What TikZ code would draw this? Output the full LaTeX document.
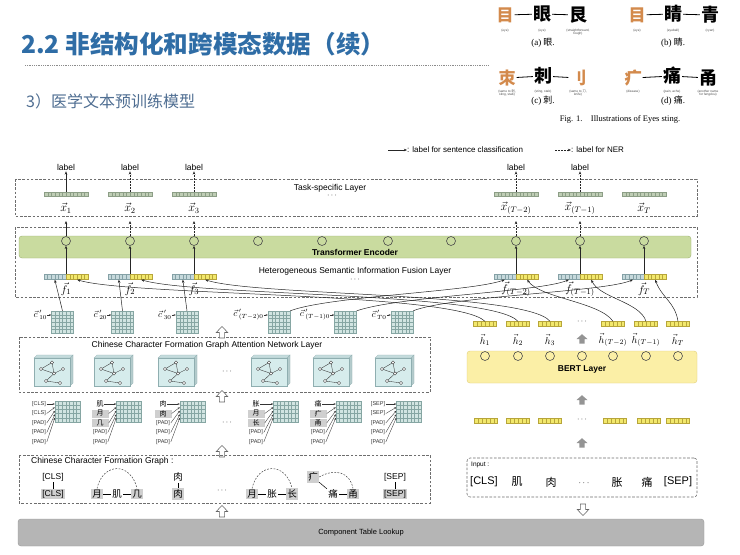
\documentclass[tikz,border=0pt]{standalone}
\usepackage{fontspec}
\setmainfont{Liberation Serif}
\setsansfont{Liberation Sans}
\newfontfamily\cjk{Noto Sans CJK SC}
\usetikzlibrary{arrows.meta,calc}

\definecolor{titleblue}{HTML}{2F6DA6}
\definecolor{subblue}{HTML}{4F6E92}
\definecolor{orng}{HTML}{D38A4C}
\definecolor{dgray}{HTML}{6E6E6E}
\definecolor{xfill}{HTML}{BFCDB5}
\definecolor{xline}{HTML}{8C9E86}
\definecolor{fgfill}{HTML}{C6D9DC}
\definecolor{fgline}{HTML}{85A1A6}
\definecolor{yfill}{HTML}{F2E86C}
\definecolor{yline}{HTML}{B7A53A}
\definecolor{gfill}{HTML}{D2E5E2}
\definecolor{gline}{HTML}{86A6A3}
\definecolor{tfill}{HTML}{C9DB9F}
\definecolor{tline}{HTML}{9DB270}
\definecolor{bfill}{HTML}{FBEFA6}
\definecolor{bline}{HTML}{E2CF78}
\definecolor{cfill}{HTML}{B5B5B5}
\definecolor{cline}{HTML}{9A9A9A}
\definecolor{hl}{HTML}{CFCFCF}
\definecolor{cubef}{HTML}{D6ECEC}
\definecolor{cubes}{HTML}{B4CBCC}
\definecolor{cubet}{HTML}{C5DCDD}
\definecolor{cubel}{HTML}{8FAEB0}

\newcommand\cellsH[2]{\pgfmathtruncatemacro\nnc{#1-1}%
 \foreach \k in {1,...,\nnc}{\draw[#2,line width=0.3pt] ($(path picture bounding box.south west)!\k/#1!(path picture bounding box.south east)$) -- ($(path picture bounding box.north west)!\k/#1!(path picture bounding box.north east)$);}}
\newcommand\cellsG[3]{\pgfmathtruncatemacro\nnc{#1-1}\pgfmathtruncatemacro\nnr{#2-1}%
 \foreach \k in {1,...,\nnc}{\draw[#3,line width=0.3pt] ($(path picture bounding box.south west)!\k/#1!(path picture bounding box.south east)$) -- ($(path picture bounding box.north west)!\k/#1!(path picture bounding box.north east)$);}%
 \foreach \k in {1,...,\nnr}{\draw[#3,line width=0.3pt] ($(path picture bounding box.south west)!\k/#2!(path picture bounding box.north west)$) -- ($(path picture bounding box.south east)!\k/#2!(path picture bounding box.north east)$);}}
\newcommand\tl[5]{\node[#4] (#1) at (#2,#3) {#5};}

\tikzset{
 arr/.style={-{Stealth[length=3.2pt,width=2.6pt]}, line width=0.5pt, draw=black!85},
 darr/.style={arr, dash pattern=on 1.8pt off 1.2pt},
 arrs/.style={-{Stealth[length=2.2pt,width=1.8pt]}, line width=0.35pt, draw=black!80},
 dbox/.style={draw=dgray, line width=0.55pt, dash pattern=on 2.6pt off 1.6pt},
 sf/.style={font=\sffamily\fontsize{#1}{#1}\selectfont, inner sep=1pt},
 sfb/.style={font=\sffamily\bfseries\fontsize{#1}{#1}\selectfont, inner sep=1pt},
 cj/.style={font=\cjk\fontsize{#1}{#1}\selectfont, inner sep=1pt},
 mathl/.style={font=\fontsize{#1}{#1}\selectfont, inner sep=0},
 xbar/.style={draw=xline, fill=xfill, line width=0.4pt, minimum width=44pt, minimum height=4.5pt, inner sep=0, path picture={\cellsH{12}{xline}}},
 fgbar/.style={draw=fgline, fill=fgfill, line width=0.4pt, minimum width=22pt, minimum height=5pt, inner sep=0, path picture={\cellsH{6}{fgline}}},
 fybar/.style={draw=yline, fill=yfill, line width=0.4pt, minimum width=22pt, minimum height=5pt, inner sep=0, path picture={\cellsH{6}{yline}}},
 hbar/.style={draw=yline, fill=yfill, line width=0.4pt, minimum width=23pt, minimum height=5pt, inner sep=0, path picture={\cellsH{6}{yline}}},
 cgrid/.style={draw=gline, fill=gfill, line width=0.4pt, minimum width=22pt, minimum height=22pt, inner sep=0, path picture={\cellsG{6}{6}{gline}}},
 egrid/.style={draw=gline, fill=gfill, line width=0.4pt, minimum width=25pt, minimum height=21pt, inner sep=0, path picture={\cellsG{7}{5}{gline}}},
 circ/.style={circle, draw=#1, line width=0.6pt, minimum size=9pt, inner sep=0},
 rad/.style={font=\cjk\bfseries\fontsize{17}{17}\selectfont, text=orng, inner sep=1pt},
 whole/.style={font=\cjk\bfseries\fontsize{18}{18}\selectfont, inner sep=1pt},
 tiny/.style={font=\sffamily\fontsize{3.2}{3.6}\selectfont, align=center, text=black!70, inner sep=0},
 capt/.style={font=\rmfamily\fontsize{9}{9}\selectfont, inner sep=0},
 tk/.style={font=\sffamily\fontsize{5.5}{6}\selectfont, inner sep=0.6pt, text=black!80},
 tc/.style={font=\cjk\fontsize{7}{7}\selectfont, inner sep=0.6pt},
 hlb/.style={fill=hl, minimum width=17pt, minimum height=8pt, inner sep=0},
 gt/.style={font=\sffamily\fontsize{8.5}{9}\selectfont, inner sep=1.2pt},
 gc/.style={font=\cjk\fontsize{9.5}{10}\selectfont, inner sep=1.2pt},
 darc/.style={draw=black!75, line width=0.5pt, dash pattern=on 1.8pt off 1.4pt},
 holup/.pic={\filldraw[fill=white, draw=black!60, line width=0.55pt] (-2.6,6) -- (-2.6,0.5) -- (-5.8,0.5) -- (0,-5.5) -- (5.8,0.5) -- (2.6,0.5) -- (2.6,6) -- cycle;},
 gup/.pic={\fill[black!42] (-2.6,4.5) -- (-2.6,0) -- (-5.5,0) -- (0,-4.8) -- (5.5,0) -- (2.6,0) -- (2.6,4.5) -- cycle;},
 gcube/.pic={
  \filldraw[fill=cubet, draw=cubel, line width=0.3pt] (-18,-14) -- (-15,-17) -- (21,-17) -- (18,-14) -- cycle;
  \filldraw[fill=cubes, draw=cubel, line width=0.3pt] (18,-14) -- (21,-17) -- (21,11) -- (18,14) -- cycle;
  \filldraw[fill=cubef, draw=cubel, line width=0.3pt] (-18,-14) rectangle (18,14);
  \draw[line width=0.4pt, black!75] (0,-9.5) -- (-11,-3) -- (2,1.5) -- cycle (2,1.5) -- (11,-3) (2,1.5) -- (-6,9) -- (8,11);
  \foreach \p in {(0,-9.5),(-11,-3),(2,1.5),(11,-3),(-6,9),(8,11)} \filldraw[fill=white, draw=black!75, line width=0.35pt] \p circle (1.6pt);
 }
}

\begin{document}
\begin{tikzpicture}[x=1pt,y=-1pt]
\useasboundingbox (0,0) rectangle (740,555);
\fill[white] (0,0) rectangle (740,555);

% ---------- title ----------
\node[anchor=west, font=\cjk\bfseries\fontsize{24.6}{28}\selectfont, text=titleblue, inner sep=0] (title) at (21,44) {2.2 非结构化和跨模态数据（续）};
\draw[line width=0.6pt, dash pattern=on 0.6pt off 1.2pt, black!45] (25,65) -- (488,65);
\node[anchor=west, font=\cjk\fontsize{16}{18}\selectfont, text=subblue, inner sep=0] (sub) at (26,101) {3）医学文本预训练模型};

% ---------- top-right figure ----------
\node[rad] (a1) at (505,15) {目};
\node[whole] (a2) at (542,14) {眼};
\node[whole] (a3) at (578,15) {艮};
\draw[line width=0.8pt] (a1) -- (a2); \draw[line width=0.8pt] (a2) -- (a3);
\node[tiny] at (505,31) {(eye)};
\node[tiny] at (542,31) {(eye)};
\node[tiny] at (578,32) {(straightforward,\\tough)};
\node[capt] (ca) at (543,43) {(a) {\cjk 眼}.};

\node[rad] (b1) at (637,15) {目};
\node[whole] (b2) at (673,14) {睛};
\node[whole] (b3) at (710,15) {青};
\draw[line width=0.8pt] (b1) -- (b2); \draw[line width=0.8pt] (b2) -- (b3);
\node[tiny] at (637,31) {(eye)};
\node[tiny] at (673,31) {(eyeball)};
\node[tiny] at (710,31) {(cyan)};
\node[capt] (cb) at (673,43) {(b) {\cjk 睛}.};

\node[rad] (c1) at (507,78) {朿};
\node[whole] (c2) at (543,76) {刺};
\node[rad] (c3) at (578,78) {刂};
\draw[line width=0.8pt] (c1) -- (c2); \draw[line width=0.8pt] (c2) -- (c3);
\node[tiny] at (507,93) {(same to {\cjk 刺},\\sting, stab)};
\node[tiny] at (543,92) {(sting, stab)};
\node[tiny] at (578,93) {(same to {\cjk 刀},\\knife)};
\node[capt] (cc) at (543,101) {(c) {\cjk 刺}.};

\node[rad] (d1) at (633,78) {疒};
\node[whole] (d2) at (672,76) {痛};
\node[whole] (d3) at (708,78) {甬};
\draw[line width=0.8pt] (d1) -- (d2); \draw[line width=0.8pt] (d2) -- (d3);
\node[tiny] at (633,92) {(disease)};
\node[tiny] at (672,92) {(pain, ache)};
\node[tiny] at (708,93) {(another name\\for fengdou)};
\node[capt] (cd) at (673,101) {(d) {\cjk 痛}.};

\node[capt, font=\rmfamily\fontsize{8.5}{9}\selectfont] (fig) at (620,119) {Fig. 1.\quad Illustrations of Eyes sting.};

% ---------- legend ----------
\coordinate (l1a) at (388,150); \coordinate (l1b) at (407,150);
\draw[arr] (l1a) -- (l1b);
\node[sf=8, anchor=west, inner sep=0] (leg1) at (407,150) {: label for sentence classification};
\coordinate (l2a) at (555,150); \coordinate (l2b) at (571,150);
\draw[darr] (l2a) -- (l2b);
\node[sf=8, anchor=west, inner sep=0] (leg2) at (571,150) {: label for NER};

% ---------- task-specific layer ----------
\draw[dbox] (15,179) rectangle (697,216);
\node[sf=8.5] (tsl) at (330,188) {Task-specific Layer};
\node[mathl=8] at (332,196) {$\cdots$};
\foreach \n/\xx/\lab in {1/66/1,2/130/2,3/194/3,4/516/(T-2),5/580/(T-1),6/644/T}{
  \node[xbar] (xb\n) at (\xx,194) {};
  \node[mathl=12] (xl\n) at (\xx,208) {$\vec{x}_{\lab}$};
}
\foreach \n/\xx in {1/66,2/130,3/194,4/516,5/580}{
  \node[sf=8.5] (lb\n) at (\xx,167) {label};
}
\draw[arr] (xb1.north) -- (lb1.south);
\foreach \n in {2,3,4,5}{\draw[darr] (xb\n.north) -- (lb\n.south);}

% ---------- transformer + fusion ----------
\draw[dbox] (15,227) rectangle (697,297);
\node[draw=tline, fill=tfill, rounded corners=3pt, minimum width=672pt, minimum height=22pt, inner sep=0] (tenc) at (355,247) {};
\node[sfb=8.5] (tencl) at (355,252) {Transformer Encoder};
\foreach \m/\xx in {1/66,2/130,3/194,4/258,5/322,6/388,7/451,8/516,9/580,10/644}{
  \node[circ=black!70] (tc\m) at (\xx,241) {};
}
\foreach \n/\xx in {1/66,2/130,3/194,4/516,5/580}{\coordinate (tu\n) at (\xx,221);}
\draw[arr] (tc1.north) -- (tu1);
\draw[darr] (tc2.north) -- (tu2);
\draw[darr] (tc3.north) -- (tu3);
\draw[darr] (tc8.north) -- (tu4);
\draw[darr] (tc9.north) -- (tu5);

\node[sf=8.5] (hsif) at (355,271) {Heterogeneous Semantic Information Fusion Layer};
\node[mathl=8] at (355,280) {$\cdots$};
\foreach \n/\m/\xx/\lab in {1/1/66/1,2/2/130/2,3/3/194/3,4/8/516/(T-2),5/9/580/(T-1),6/10/644/T}{
  \node[fgbar,anchor=east] (fg\n) at (\xx,277) {};
  \node[fybar,anchor=west] (fy\n) at (\xx,277) {};
  \node[mathl=11] (fl\n) at (\xx,289) {$\vec{f}_{\lab}$};
  \draw[arr] (fg\n.north east) -- (tc\m.south);
}

% ---------- c' grids ----------
\foreach \n/\xx/\lab in {1/62.5/10,2/122.5/20,3/187/30,4/279/(T-2)0,5/345.5/(T-1)0,6/402/T0}{
  \node[cgrid] (cg\n) at (\xx,322) {};
  \node[mathl=9, anchor=east] (cl\n) at ($(cg\n.west)+(-4,-7)$) {${\vec{c}}\,'_{\lab}$};
  \draw[arrs] (cl\n.east) -- (cl\n.east -| cg\n.west);
}
\draw[arr] (cg1.north) -- (fg1.south);
\draw[arr] (cg2.north) -- (fg2.south);
\draw[arr] (cg3.north) -- (fg3.south);
\draw[arr] (cg4.north east) .. controls (330,296) and (470,292) .. (fg4.south);
\draw[arr] (cg5.north east) .. controls (400,296) and (540,292) .. (fg5.south);
\draw[arr] (cg6.north east) .. controls (450,296) and (605,292) .. (fg6.south);

% ---------- h vectors ----------
\foreach \n/\xx/\lab in {1/485/1,2/518/2,3/550/3,4/613/(T-2),5/646/(T-1),6/678/T}{
  \node[hbar] (hb\n) at (\xx,324) {};
  \node[mathl=10] (hl\n) at (\xx,340) {$\vec{h}_{\lab}$};
}
\node[mathl=8] (hdots) at (582,322) {$\cdots$};
\pic (ga1) at (582,339) {gup};
\draw[arr] (hb1.north) .. controls (455,292) and (130,296) .. (fy1.south);
\draw[arr] (hb2.north) .. controls (492,292) and (195,296) .. (fy2.south);
\draw[arr] (hb3.north) .. controls (527,292) and (255,296) .. (fy3.south);
\draw[arr] (hb4.north) .. controls (600,302) and (540,298) .. (fy4.south);
\draw[arr] (hb5.north) .. controls (640,302) and (600,298) .. (fy5.south);
\draw[arr] (hb6.north) .. controls (675,302) and (662,298) .. (fy6.south);

% ---------- BERT ----------
\node[draw=bline, fill=bfill, rounded corners=3pt, minimum width=230pt, minimum height=32pt, inner sep=0] (bert) at (582,367) {};
\foreach \n/\xx in {1/485,2/518,3/550,4/582,5/613,6/646,7/678}{
  \node[circ=black!70] (bc\n) at (\xx,356) {};
}
\node[sfb=8.5] (bertl) at (582,369) {BERT Layer};
\pic (ga2) at (582,400) {gup};
\foreach \n/\xx in {1/486,2/518,3/550,4/615,5/649,6/678}{
  \node[hbar] (eb\n) at (\xx,421) {};
}
\node[mathl=8] (edots) at (582,420) {$\cdots$};
\pic (ga3) at (582,443) {gup};

% ---------- input ----------
\node[dbox, rounded corners=3pt, minimum width=230pt, minimum height=39pt, inner sep=0] (inp) at (582,477.5) {};
\node[sf=6.5, anchor=west] (inpl) at (470,465) {Input :};
\node[sf=11] (i1) at (484,482) {[CLS]};
\node[cj=11] (i2) at (517,482) {肌};
\node[cj=11] (i3) at (551,482) {肉};
\node[mathl=9] (i4) at (584,483) {$\cdots$};
\node[cj=11] (i5) at (617,482) {胀};
\node[cj=11] (i6) at (647,482) {痛};
\node[sf=11] (i7) at (678,482) {[SEP]};

% ---------- component table ----------
\node[draw=cline, fill=cfill, rounded corners=3pt, minimum width=686pt, minimum height=27pt, inner sep=0] (ctl) at (361,532.5) {};
\node[sf=7.5] (ctll) at (361,532.5) {Component Table Lookup};
\pic (ha4) at (222,511) {holup};
\pic[rotate=180] (ha5) at (583,510) {holup};

% ---------- graph attention layer ----------
\draw[dbox] (19,337) rectangle (430,392);
\node[sf=8.5] (gatl) at (207,345) {Chinese Character Formation Graph Attention Network Layer};
\pic (ha1) at (222,332) {holup};
\foreach \xx in {52,112,176,269,331,393}{\pic at (\xx,372) {gcube};}
\node[mathl=8] (gdots) at (227,372) {$\cdots$};
\pic (ha2) at (222,396) {holup};

% ---------- embedding groups ----------
\foreach \g/\gx in {1/67.5,2/129,3/192.5,4/286,5/348.5,6/409}{
  \node[egrid] (eg\g) at (\gx,411.5) {};
}
% G1
\tl{e1-1}{39}{404}{tk}{[CLS]}
\tl{e1-2}{39}{413.5}{tk}{[CLS]}
\tl{e1-3}{39}{423}{tk}{[PAD]}
\tl{e1-4}{39}{432.5}{tk}{[PAD]}
\tl{e1-5}{39}{442}{tk}{[PAD]}
% G2
\tl{e2-1}{100}{404}{tc}{肌}
\tl{e2-2}{100}{413.5}{tc,hlb}{月}
\tl{e2-3}{100}{423}{tc,hlb}{几}
\tl{e2-4}{100}{432.5}{tk}{[PAD]}
\tl{e2-5}{100}{442}{tk}{[PAD]}
% G3
\tl{e3-1}{163}{404}{tc}{肉}
\tl{e3-2}{163}{413.5}{tc,hlb}{肉}
\tl{e3-3}{163}{423}{tk}{[PAD]}
\tl{e3-4}{163}{432.5}{tk}{[PAD]}
\tl{e3-5}{163}{442}{tk}{[PAD]}
% G4
\tl{e4-1}{256}{404}{tc}{胀}
\tl{e4-2}{256}{413.5}{tc,hlb}{月}
\tl{e4-3}{256}{423}{tc,hlb}{长}
\tl{e4-4}{256}{432.5}{tk}{[PAD]}
\tl{e4-5}{256}{442}{tk}{[PAD]}
% G5
\tl{e5-1}{318}{404}{tc}{痛}
\tl{e5-2}{318}{413.5}{tc,hlb}{疒}
\tl{e5-3}{318}{423}{tc,hlb}{甬}
\tl{e5-4}{318}{432.5}{tk}{[PAD]}
\tl{e5-5}{318}{442}{tk}{[PAD]}
% G6
\tl{e6-1}{378}{404}{tk}{[SEP]}
\tl{e6-2}{378}{413.5}{tk}{[SEP]}
\tl{e6-3}{378}{423}{tk}{[PAD]}
\tl{e6-4}{378}{432.5}{tk}{[PAD]}
\tl{e6-5}{378}{442}{tk}{[PAD]}
\foreach \g in {1,...,6}{
  \draw[arrs] (e\g-1.east) -- (e\g-1.east -| eg\g.west);
  \foreach \r/\dy in {2/6.5,3/10,4/13.5,5/17}{
    \draw[arrs] (e\g-\r.east) -- ($(eg\g.north west)+(0,\dy)$);
  }
}
\node[mathl=8] (embdots) at (227,423) {$\cdots$};
\pic (ha3) at (222,451) {holup};

% ---------- formation graph box ----------
\draw[dbox] (19,455) rectangle (430,503);
\node[sf=8.5, anchor=west] (ccfg) at (30,461) {Chinese Character Formation Graph :};
\node[gt] (k1a) at (53,477) {[CLS]};
\node[gt, fill=hl] (k1b) at (53,494) {[CLS]};
\draw[line width=0.5pt] (k1a) -- (k1b);
\node[gc, fill=hl] (k2a) at (97,494) {月};
\node[gc] (k2b) at (117,494) {肌};
\node[gc, fill=hl] (k2c) at (137,494) {几};
\draw[line width=0.5pt] (k2a) -- (k2b); \draw[line width=0.5pt] (k2b) -- (k2c);
\draw[darc] (k2a.north) .. controls (103,462) and (131,462) .. (k2c.north);
\node[gc] (k3a) at (178,477) {肉};
\node[gc, fill=hl] (k3b) at (178,494) {肉};
\draw[line width=0.5pt] (k3a) -- (k3b);
\node[mathl=8] (kdots) at (222,491) {$\cdots$};
\node[gc, fill=hl] (k4a) at (252,494) {月};
\node[gc] (k4b) at (272,494) {胀};
\node[gc, fill=hl] (k4c) at (292,494) {长};
\draw[line width=0.5pt] (k4a) -- (k4b); \draw[line width=0.5pt] (k4b) -- (k4c);
\draw[darc] (k4a.north) .. controls (258,462) and (286,462) .. (k4c.north);
\node[gc, fill=hl] (k5a) at (313,477) {疒};
\node[gc] (k5b) at (333,494) {痛};
\node[gc, fill=hl] (k5c) at (353,494) {甬};
\draw[line width=0.5pt] (k5a) -- (k5b); \draw[line width=0.5pt] (k5b) -- (k5c);
\draw[darc] (k5a.east) .. controls (335,468) and (350,472) .. (k5c.north);
\node[gt] (k6a) at (395,477) {[SEP]};
\node[gt, fill=hl] (k6b) at (395,494) {[SEP]};
\draw[line width=0.5pt] (k6a) -- (k6b);
\end{tikzpicture}
\end{document}
